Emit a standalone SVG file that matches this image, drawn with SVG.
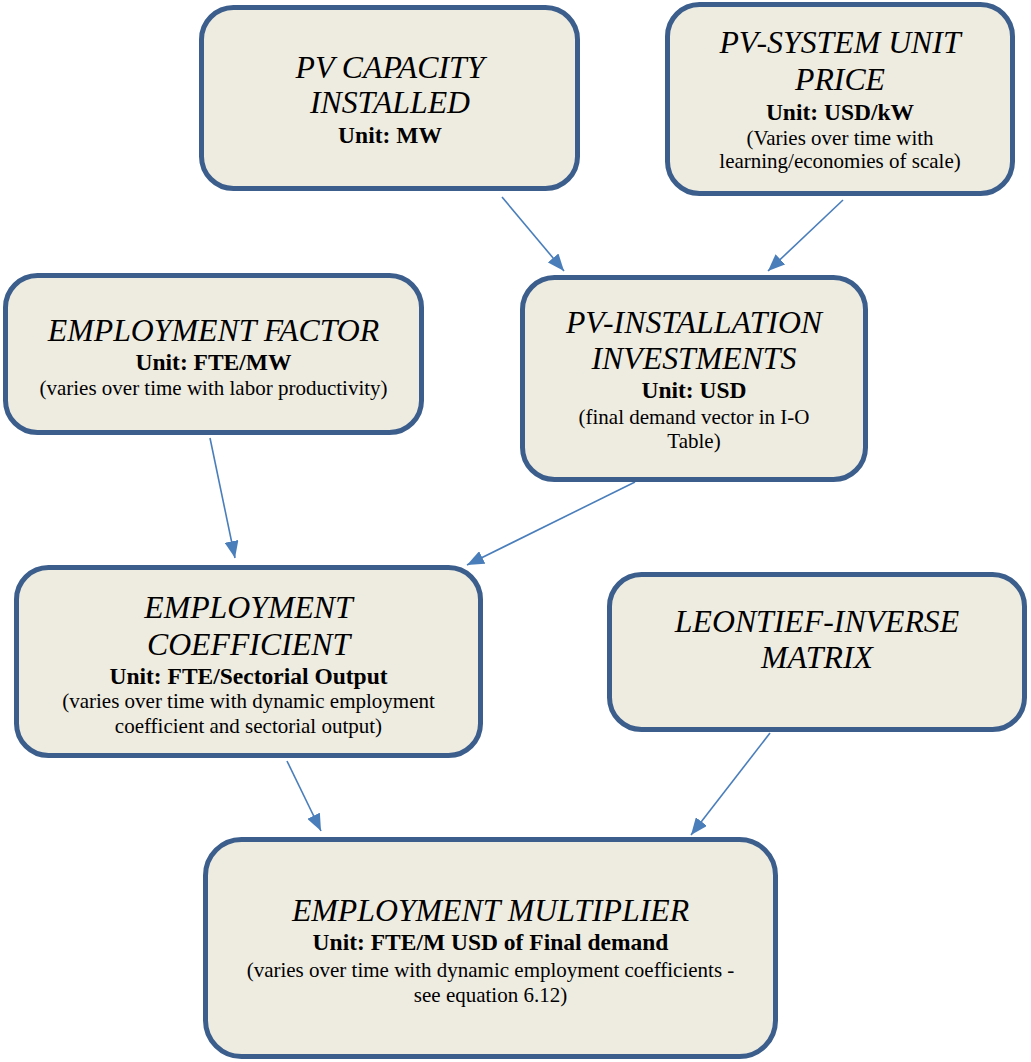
<svg xmlns="http://www.w3.org/2000/svg" width="1031" height="1062" viewBox="0 0 1031 1062">
<style>
.box{fill:#eeece1;stroke:#3b5e8c;stroke-width:5}
.t{font-family:"Liberation Serif","Times New Roman",serif;font-style:italic;font-size:31.8px;fill:#000;text-anchor:middle}
.b{font-family:"Liberation Serif","Times New Roman",serif;font-weight:bold;font-size:23.5px;fill:#000;text-anchor:middle}
.r{font-family:"Liberation Serif","Times New Roman",serif;font-size:21px;fill:#000;text-anchor:middle}
.c{stroke:#4a7ebb;stroke-width:1.6;fill:none;marker-end:url(#ah)}
</style>
<defs>
<marker id="ah" markerUnits="userSpaceOnUse" markerWidth="17" markerHeight="14" refX="17" refY="7" orient="auto">
<path d="M0,0 L17,7 L0,14 z" fill="#4a7ebb"/>
</marker>
</defs>
<rect width="1031" height="1062" fill="#fff"/>
<g id="connectors">
<line class="c" x1="502" y1="197" x2="564" y2="271"/>
<line class="c" x1="843" y1="200" x2="768" y2="271"/>
<line class="c" x1="210" y1="438" x2="235" y2="558"/>
<line class="c" x1="635" y1="482" x2="467" y2="565"/>
<line class="c" x1="287" y1="761" x2="321" y2="831"/>
<line class="c" x1="770" y1="733" x2="691" y2="835"/>
</g>
<g id="pv-capacity">
<rect class="box" x="201.5" y="7.5" width="376" height="181" rx="32"/>
<text class="t" x="390" y="78">PV CAPACITY</text>
<text class="t" x="390" y="113">INSTALLED</text>
<text class="b" x="390" y="143">Unit: MW</text>
</g>
<g id="pv-price">
<rect class="box" x="667.5" y="4.5" width="345" height="189" rx="32"/>
<text class="t" x="840" y="53">PV-SYSTEM UNIT</text>
<text class="t" x="840" y="90">PRICE</text>
<text class="b" x="840" y="120">Unit: USD/kW</text>
<text class="r" x="840" y="145">(Varies over time with</text>
<text class="r" x="840" y="168">learning/economies of scale)</text>
</g>
<g id="employment-factor">
<rect class="box" x="5.5" y="275.5" width="416" height="157" rx="32"/>
<text class="t" x="213.5" y="341">EMPLOYMENT FACTOR</text>
<text class="b" x="213.5" y="370">Unit: FTE/MW</text>
<text class="r" x="213.5" y="395">(varies over time with labor productivity)</text>
</g>
<g id="pv-investments">
<rect class="box" x="522.5" y="277.5" width="343" height="202" rx="32"/>
<text class="t" x="694" y="333">PV-INSTALLATION</text>
<text class="t" x="694" y="369">INVESTMENTS</text>
<text class="b" x="694" y="398">Unit: USD</text>
<text class="r" x="694" y="424">(final demand vector in I-O</text>
<text class="r" x="694" y="448">Table)</text>
</g>
<g id="employment-coefficient">
<rect class="box" x="16.5" y="567.5" width="464" height="188" rx="32"/>
<text class="t" x="248.5" y="618">EMPLOYMENT</text>
<text class="t" x="248.5" y="655">COEFFICIENT</text>
<text class="b" x="248.5" y="684">Unit: FTE/Sectorial Output</text>
<text class="r" x="248.5" y="708">(varies over time with dynamic employment</text>
<text class="r" x="248.5" y="733">coefficient and sectorial output)</text>
</g>
<g id="leontief">
<rect class="box" x="609.5" y="574.5" width="415" height="155" rx="32"/>
<text class="t" x="817" y="632">LEONTIEF-INVERSE</text>
<text class="t" x="817" y="668">MATRIX</text>
</g>
<g id="employment-multiplier">
<rect class="box" x="205.5" y="839.5" width="570" height="217" rx="36"/>
<text class="t" x="490.5" y="921">EMPLOYMENT MULTIPLIER</text>
<text class="b" x="490.5" y="950">Unit: FTE/M USD of Final demand</text>
<text class="r" x="490.5" y="977">(varies over time with dynamic employment coefficients -</text>
<text class="r" x="490.5" y="1002">see equation 6.12)</text>
</g>
</svg>
